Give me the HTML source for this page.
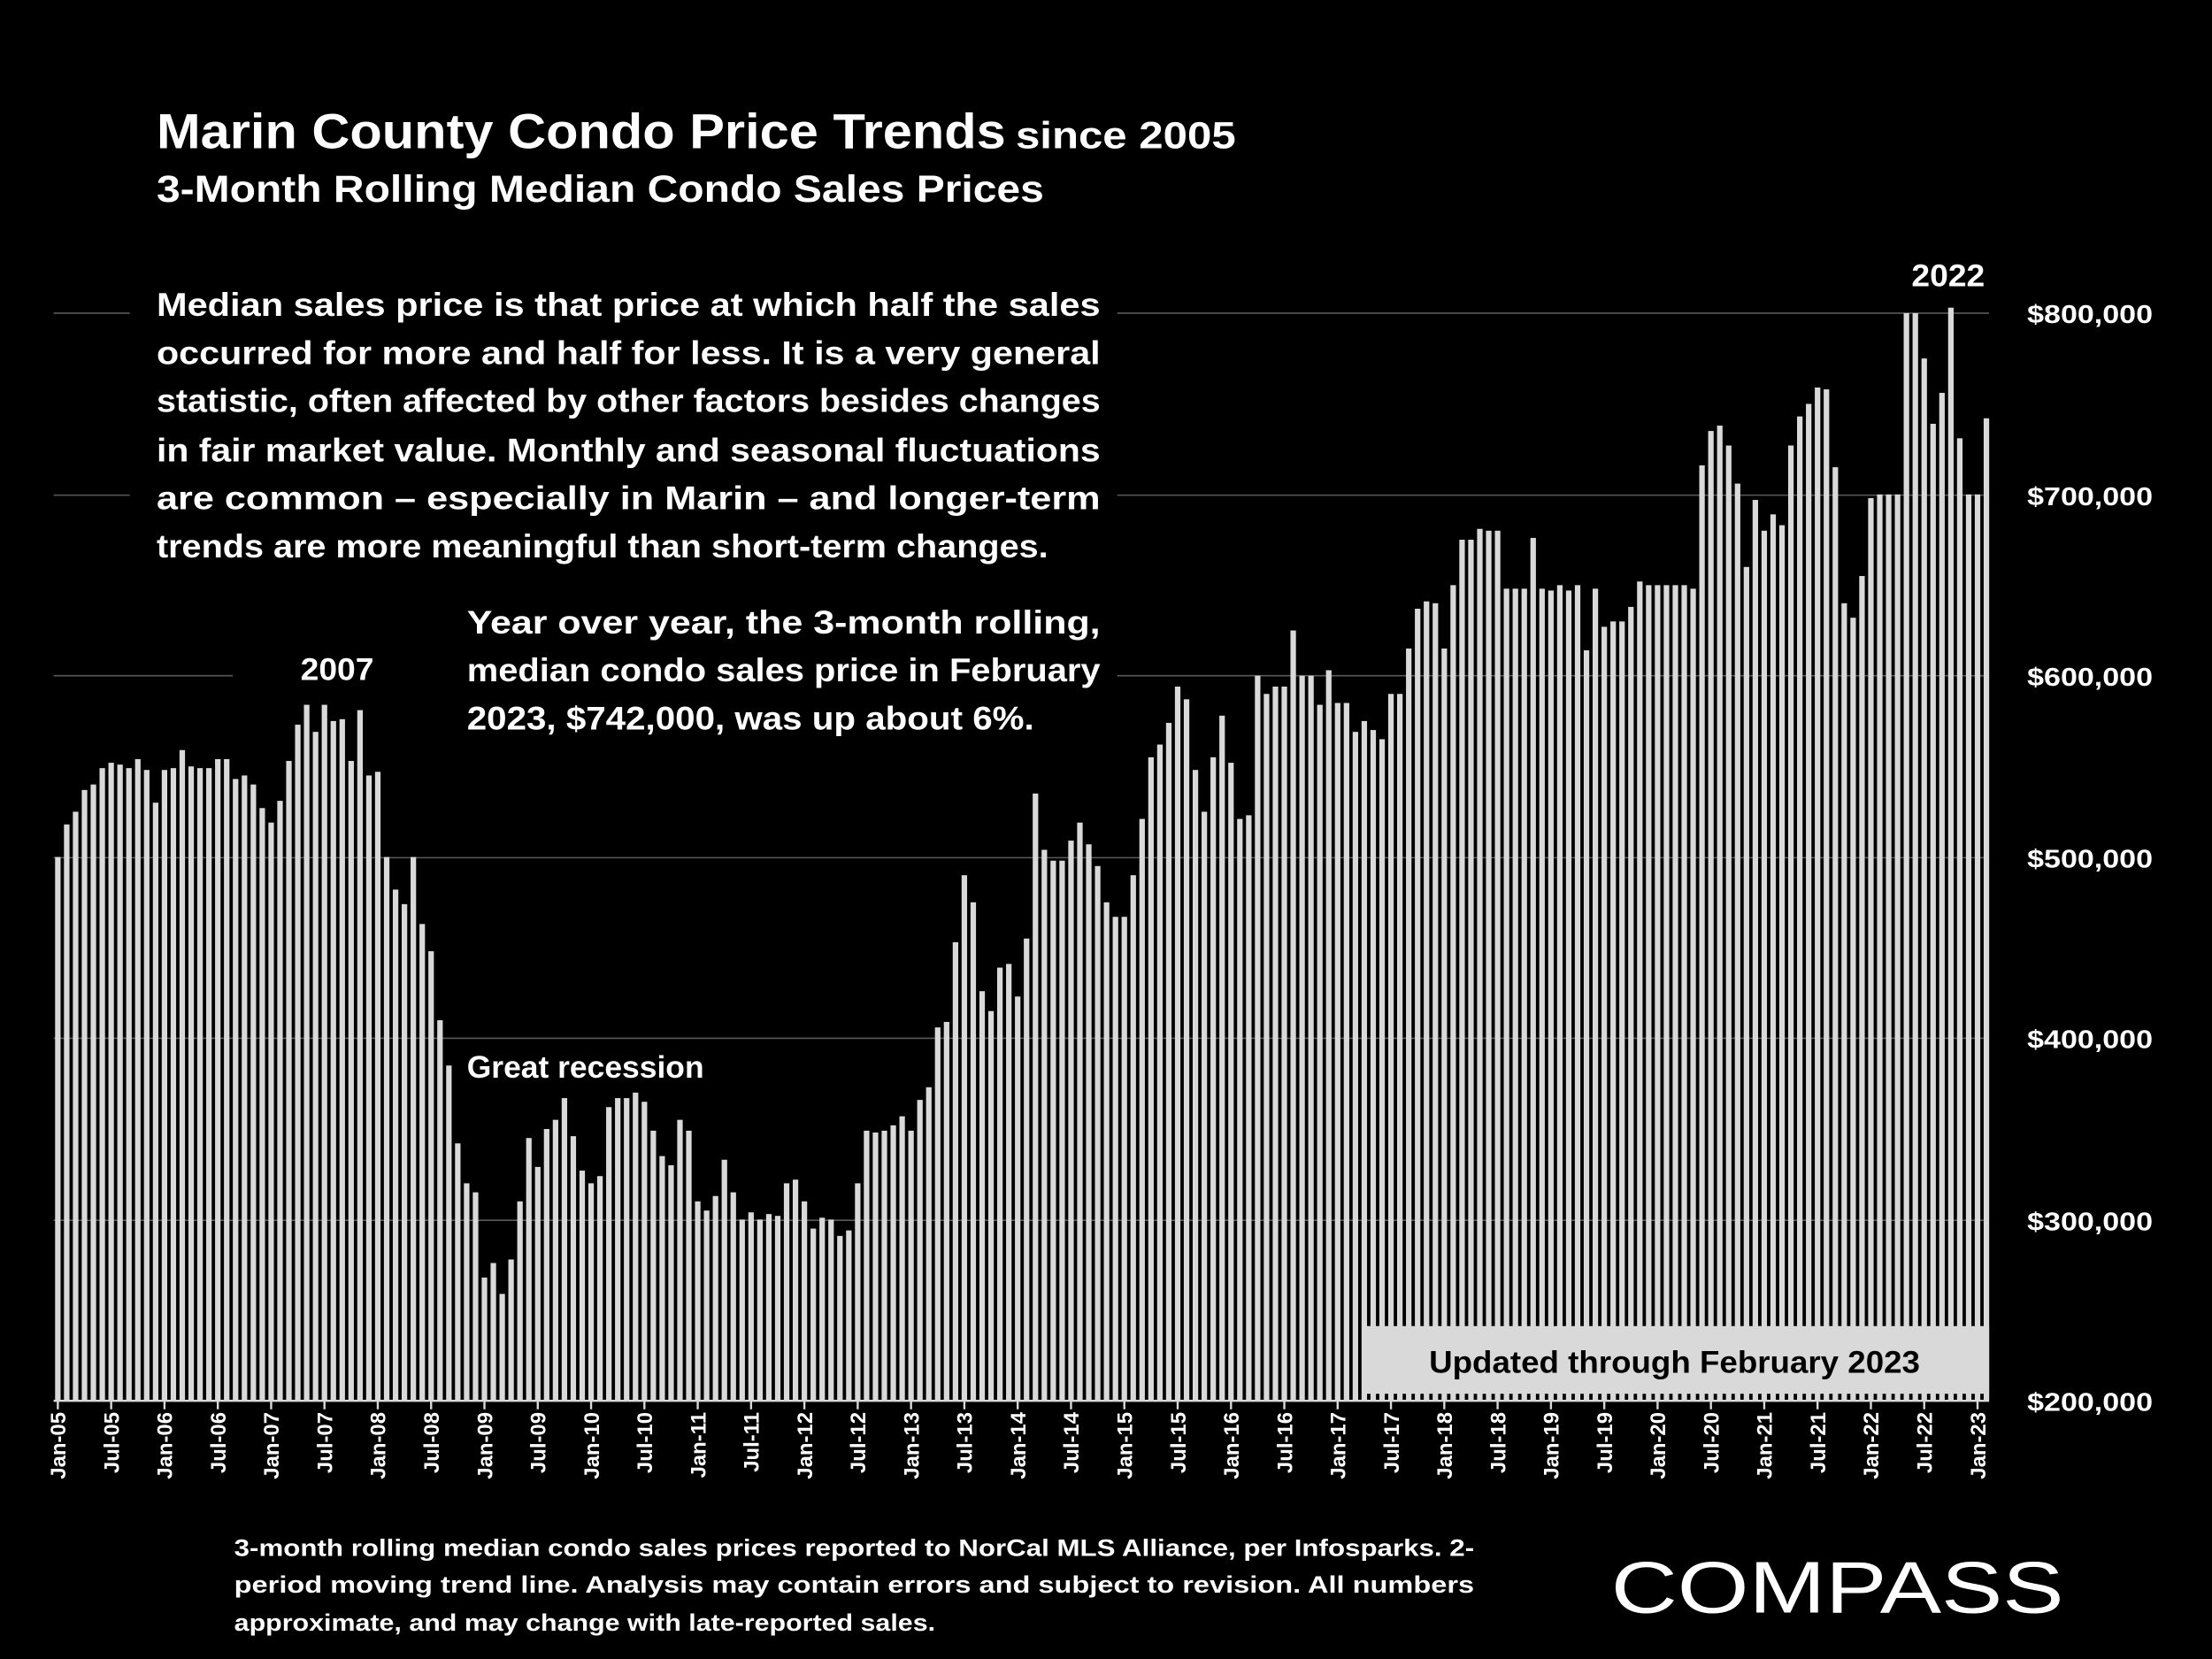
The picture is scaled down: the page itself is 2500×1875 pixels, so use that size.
<!DOCTYPE html>
<html><head><meta charset="utf-8"><style>
html,body{margin:0;padding:0;background:#000;}
svg{display:block;}
text{font-family:"Liberation Sans",sans-serif;fill:#fff;font-weight:bold;}
</style></head><body>
<svg id="s" width="2500" height="1875" viewBox="0 0 1568 1176" xmlns="http://www.w3.org/2000/svg">
<rect width="1568" height="1176" fill="#000"/>
<g id="grid" stroke="#5a5a5a" stroke-width="1"></g>
<!-- text masks (under bars) -->
<rect x="92" y="196" width="700" height="206" fill="#000"/>
<rect x="165" y="420" width="627" height="110" fill="#000"/>
<g id="bars" fill="#d9d9d9"></g>
<g id="xl"></g>
<line x1="38" y1="993" x2="1410" y2="993" stroke="#d9d9d9" stroke-width="1.5"/>
<text x="111" y="105" font-size="35" textLength="602" lengthAdjust="spacingAndGlyphs">Marin County Condo Price Trends</text>
<text x="720" y="105" font-size="27" textLength="156" lengthAdjust="spacingAndGlyphs">since 2005</text>
<text x="111" y="143" font-size="27" textLength="629" lengthAdjust="spacingAndGlyphs">3-Month Rolling Median Condo Sales Prices</text>
<g font-size="23">
<text x="111" y="224" textLength="669" lengthAdjust="spacingAndGlyphs">Median sales price is that price at which half the sales</text>
<text x="111" y="258" textLength="669" lengthAdjust="spacingAndGlyphs">occurred for more and half for less. It is a very general</text>
<text x="111" y="292" textLength="669" lengthAdjust="spacingAndGlyphs">statistic, often affected by other factors besides changes</text>
<text x="111" y="327" textLength="669" lengthAdjust="spacingAndGlyphs">in fair market value. Monthly and seasonal fluctuations</text>
<text x="111" y="361" textLength="669" lengthAdjust="spacingAndGlyphs">are common – especially in Marin – and longer-term</text>
<text x="111" y="395" textLength="632" lengthAdjust="spacingAndGlyphs">trends are more meaningful than short-term changes.</text>
<text x="331" y="449" textLength="449" lengthAdjust="spacingAndGlyphs">Year over year, the 3-month rolling,</text>
<text x="331" y="483" textLength="449" lengthAdjust="spacingAndGlyphs">median condo sales price in February</text>
<text x="331" y="517" textLength="402" lengthAdjust="spacingAndGlyphs">2023, $742,000, was up about 6%.</text>
</g>
<text x="213" y="482" font-size="22" textLength="52" lengthAdjust="spacingAndGlyphs">2007</text>
<text x="1355" y="203" font-size="22" textLength="52" lengthAdjust="spacingAndGlyphs">2022</text>
<text x="331" y="764" font-size="22" textLength="168" lengthAdjust="spacingAndGlyphs">Great recession</text>
<g font-size="18">
<text x="1437" y="229" textLength="89" lengthAdjust="spacingAndGlyphs">$800,000</text>
<text x="1437" y="358" textLength="89" lengthAdjust="spacingAndGlyphs">$700,000</text>
<text x="1437" y="486" textLength="89" lengthAdjust="spacingAndGlyphs">$600,000</text>
<text x="1437" y="615" textLength="89" lengthAdjust="spacingAndGlyphs">$500,000</text>
<text x="1437" y="743" textLength="89" lengthAdjust="spacingAndGlyphs">$400,000</text>
<text x="1437" y="872" textLength="89" lengthAdjust="spacingAndGlyphs">$300,000</text>
<text x="1437" y="1000" textLength="89" lengthAdjust="spacingAndGlyphs">$200,000</text>
</g>
<rect x="966" y="940" width="444" height="48" fill="#d9d9d9"/>
<text x="1013" y="973" font-size="22" style="fill:#000" textLength="348" lengthAdjust="spacingAndGlyphs">Updated through February 2023</text>
<g font-size="17">
<text x="166" y="1103" textLength="879" lengthAdjust="spacingAndGlyphs">3-month rolling median condo sales prices reported to NorCal MLS Alliance, per Infosparks. 2-</text>
<text x="166" y="1129" textLength="879" lengthAdjust="spacingAndGlyphs">period moving trend line. Analysis may contain errors and subject to revision. All numbers</text>
<text x="166" y="1156" textLength="497" lengthAdjust="spacingAndGlyphs">approximate, and may change with late-reported sales.</text>
</g>
<text x="1142" y="1143" font-size="52" style="font-weight:normal" textLength="321" lengthAdjust="spacingAndGlyphs">COMPASS</text>
</svg>
<script>
var v=[500,518,525,537,540,549,552,551,549,554,548,530,
548,549,559,550,549,549,554,554,543,545,540,527,
519,531,553,573,584,569,584,575,576,553,581,545,
547,500,482,474,500,463,448,410,385,342,320,315,
268,276,259,278,310,345,329,350,355,367,346,327,
320,324,362,367,367,370,365,349,335,330,355,349,
310,305,313,333,315,300,304,300,303,302,320,322,
310,295,301,300,291,294,320,349,348,349,352,357,
349,366,373,406,409,453,490,475,426,415,439,441,
423,455,535,504,498,498,509,519,507,495,475,467,
467,490,521,555,562,574,594,587,548,525,555,578,
552,521,523,600,590,594,594,625,600,600,584,603,
585,585,569,575,570,565,590,590,615,637,641,640,
615,650,675,675,681,680,680,648,648,648,676,648,
647,650,647,650,614,648,627,630,630,638,652,650,
650,650,650,650,648,716,735,738,727,706,660,697,
680,689,683,727,743,750,759,758,715,640,632,655,
698,700,700,700,800,800,775,739,756,803,731,700,
700,742];
var NS="http://www.w3.org/2000/svg";
function el(t,a,p){var e=document.createElementNS(NS,t);for(var k in a)e.setAttribute(k,a[k]);p.appendChild(e);return e;}
var g=document.getElementById('grid');
[222,351,479,608,736,865].forEach(function(y){el('line',{x1:38,y1:y,x2:1410,y2:y},g);});
var b=document.getElementById('bars');
for(var i=0;i<v.length;i++){var x=41+i*6.3;var y=993-(v[i]-200)*1.285;el('rect',{x:(x-1.95).toFixed(2),y:y.toFixed(1),width:3.9,height:(993-y).toFixed(1)},b);}
var xl=document.getElementById('xl');
for(var i=0;i<=216;i+=6){var x=41+i*6.3;var yr=5+Math.floor(i/12);var lab=(i%12==0?'Jan-':'Jul-')+(yr<10?'0':'')+yr;
el('line',{x1:x,y1:993,x2:x,y2:999,stroke:'#d9d9d9','stroke-width':1.5},xl);
var t=el('text',{x:0,y:0,'font-size':15,'text-anchor':'end',transform:'translate('+(x+5.5)+',1001) rotate(-90)'},xl);t.textContent=lab;}
</script>
</body></html>
